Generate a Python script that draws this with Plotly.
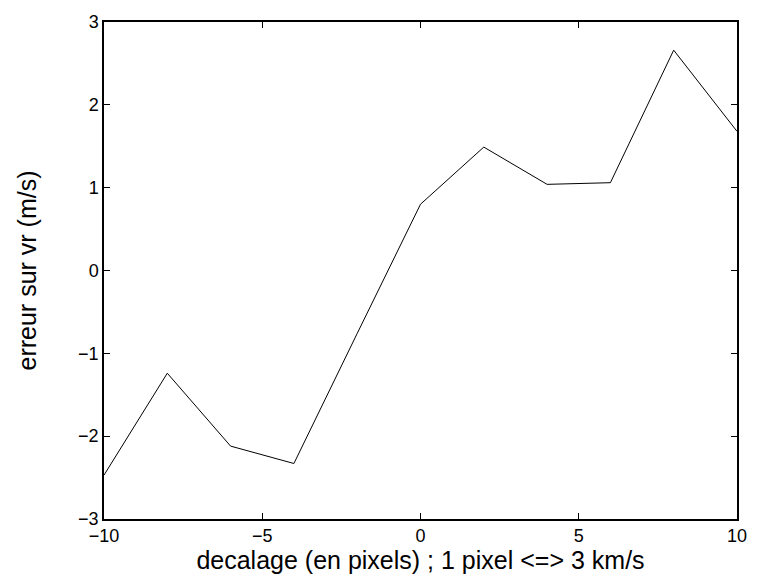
import plotly.graph_objects as go

x_vals = [-10, -8, -6, -4, -2, 0, 2, 4, 6, 8, 10]
y_vals = [-2.47, -1.24, -2.12, -2.33, -0.76, 0.80, 1.49, 1.04, 1.06, 2.66, 1.68]
x_ticks = [-10, -5, 0, 5, 10]
y_ticks = [-3, -2, -1, 0, 1, 2, 3]

FONT = "Liberation Sans, Arial, Helvetica"

fig = go.Figure()
fig.add_trace(go.Scatter(x=x_vals, y=y_vals, mode="lines",
                         line=dict(color="black", width=1), showlegend=False))

axis_common = dict(showgrid=False, zeroline=False, showline=True, linecolor="black",
                   linewidth=1.5, mirror="ticks", ticks="inside", ticklen=6,
                   tickcolor="black", tickfont=dict(family=FONT, size=18, color="black"))

fig.update_xaxes(range=[-10, 10], tickvals=x_ticks, ticktext=["\u221210", "\u22125", "0", "5", "10"],
                 title=dict(text="decalage (en pixels) ; 1 pixel <=> 3 km/s",
                            font=dict(family=FONT, size=25, color="black"), standoff=6),
                 **axis_common)
fig.update_yaxes(range=[-3, 3], tickvals=y_ticks, ticktext=["\u22123", "\u22122", "\u22121", "0", "1", "2", "3"],
                 title=dict(text="erreur sur vr (m/s)",
                            font=dict(family=FONT, size=25, color="black"), standoff=34),
                 **axis_common)

fig.update_layout(width=759, height=583, margin=dict(l=104, r=13, t=13, b=64),
                  plot_bgcolor="white", paper_bgcolor="white")
fig.write_html("out.html")
